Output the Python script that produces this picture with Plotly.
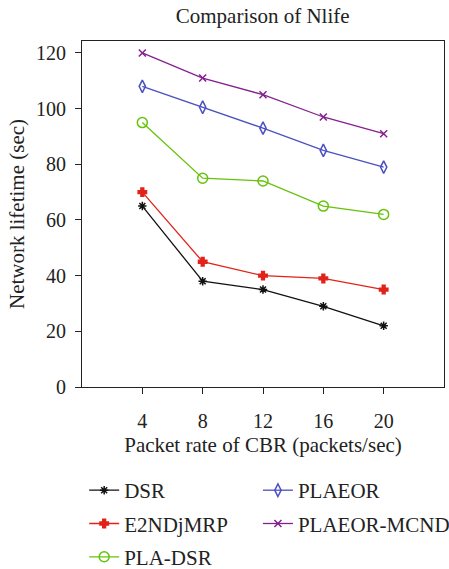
import plotly.graph_objects as go

x_vals = [4, 8, 12, 16, 20]
dsr = [65, 38, 35, 29, 22]
e2ndjmrp = [70, 45, 40, 39, 35]
pla_dsr = [95, 75, 74, 65, 62]
plaeor = [108, 100.5, 93, 85, 79]
plaeor_mcnd = [120, 111, 105, 97, 91]

FONT = "Liberation Serif"
fig = go.Figure()

def add(name, y, color, symbol, size, legend, width=1.3):
    fig.add_trace(go.Scatter(
        x=x_vals, y=y, name=name, mode="lines+markers",
        line=dict(color=color, width=width),
        marker=dict(symbol=symbol, size=size, color=color,
                    line=dict(color=color, width=1.5)),
        legend=legend, legendgroup=name,
    ))

add("DSR", dsr, "#111111", "asterisk-open", 7, "legend")
add("E2NDjMRP", e2ndjmrp, "#e2231a", "cross", 7, "legend")
add("PLA-DSR", pla_dsr, "#66c20a", "circle-open", 10, "legend")
add("PLAEOR", plaeor, "#4a50c0", "diamond-tall-open", 9, "legend2")
add("PLAEOR-MCND", plaeor_mcnd, "#84208f", "x-thin-open", 7, "legend2")

axis_common = dict(
    showgrid=False, zeroline=False, showline=True, linecolor="#222222",
    linewidth=1.2, ticks="outside", ticklen=6, tickcolor="#222222",
    tickfont=dict(family=FONT, size=20, color="#222222"),
)

fig.update_layout(
    width=449, height=569,
    margin=dict(l=82, r=5, t=41, b=182, autoexpand=False),
    paper_bgcolor="white", plot_bgcolor="white",
    font=dict(family=FONT, size=20, color="#222222"),
    title=dict(text="Comparison of Nlife", x=0.585, xanchor="center",
               y=0.972, yanchor="middle",
               font=dict(family=FONT, size=21, color="#222222")),
    xaxis=dict(range=[0, 24], tickvals=x_vals, mirror=True, ticklabelstandoff=10,
               title=dict(text="Packet rate of CBR (packets/sec)", standoff=6,
                          font=dict(family=FONT, size=21)),
               **axis_common),
    yaxis=dict(range=[0, 124.3], tickvals=[0, 20, 40, 60, 80, 100, 120], mirror=True,
               ticklabelstandoff=5,
               title=dict(text="Network lifetime (sec)", standoff=5,
                          font=dict(family=FONT, size=21)),
               **axis_common),
    legend=dict(x=0.006, y=-0.24, xanchor="left", yanchor="top",
                orientation="v", tracegroupgap=3, traceorder="grouped",
                font=dict(family=FONT, size=21), bgcolor="rgba(0,0,0,0)"),
    legend2=dict(x=0.486, y=-0.24, xanchor="left", yanchor="top",
                 orientation="v", tracegroupgap=3, traceorder="grouped",
                 font=dict(family=FONT, size=21), bgcolor="rgba(0,0,0,0)"),
)

fig.write_html("out.html")
